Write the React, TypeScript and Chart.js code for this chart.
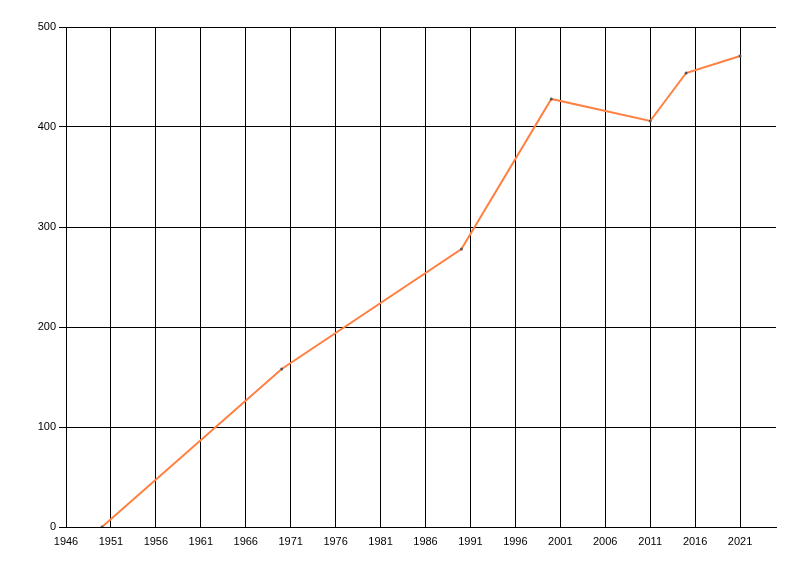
import { useEffect, useRef } from 'react';
import { Chart, registerables } from 'chart.js';

Chart.register(...registerables);

const years = [1950, 1970, 1990, 2000, 2011, 2015, 2021];
const values = [0, 158, 278, 428, 406, 454, 471];
const xTicks = [1946, 1951, 1956, 1961, 1966, 1971, 1976, 1981, 1986, 1991, 1996, 2001, 2006, 2011, 2016, 2021];
const yTicks = [0, 100, 200, 300, 400, 500];

export default function App() {
  const canvasRef = useRef<HTMLCanvasElement>(null);
  const chartRef = useRef<Chart | null>(null);

  useEffect(() => {
    document.body.style.margin = '0';
    if (!canvasRef.current) return;
    chartRef.current?.destroy();

    chartRef.current = new Chart(canvasRef.current, {
      type: 'line',
      data: {
        datasets: [
          {
            data: years.map((y, i) => ({ x: y, y: values[i] })),
            borderColor: '#FF8040',
            borderWidth: 2,
            pointRadius: 1.5,
            pointBackgroundColor: '#555555',
            pointBorderWidth: 0,
            tension: 0,
          },
        ],
      },
      options: {
        animation: false,
        responsive: false,
        layout: { padding: { top: 27, right: 24, left: 0, bottom: 0 } },
        plugins: {
          legend: { display: false },
          tooltip: { enabled: false },
        },
        scales: {
          x: {
            type: 'linear',
            min: 1946,
            max: 2025,
            afterBuildTicks: (scale) => {
              scale.ticks = xTicks.map((v) => ({ value: v }));
            },
            afterFit: (scale) => {
              scale.height = 49;
            },
            ticks: {
              color: '#000',
              font: { family: 'Liberation Sans', size: 11 },
              padding: 8,
              maxRotation: 0,
              autoSkip: false,
              callback: (v) => String(v),
            },
            grid: { color: '#000', lineWidth: 1, drawTicks: false },
            border: { display: true, color: '#000' },
          },
          y: {
            min: 0,
            max: 500,
            afterBuildTicks: (scale) => {
              scale.ticks = yTicks.map((v) => ({ value: v }));
            },
            afterFit: (scale) => {
              scale.width = 66;
            },
            ticks: {
              color: '#000',
              font: { family: 'Liberation Sans', size: 11 },
              padding: 3,
              callback: (v) => String(v),
            },
            grid: { color: '#000', lineWidth: 1, tickLength: 7 },
            border: { display: true, color: '#000' },
          },
        },
      },
    });

    return () => {
      chartRef.current?.destroy();
    };
  }, []);

  return (
    <div style={{ width: 800, height: 576, background: '#fff' }}>
      <canvas ref={canvasRef} width={800} height={576} />
    </div>
  );
}
